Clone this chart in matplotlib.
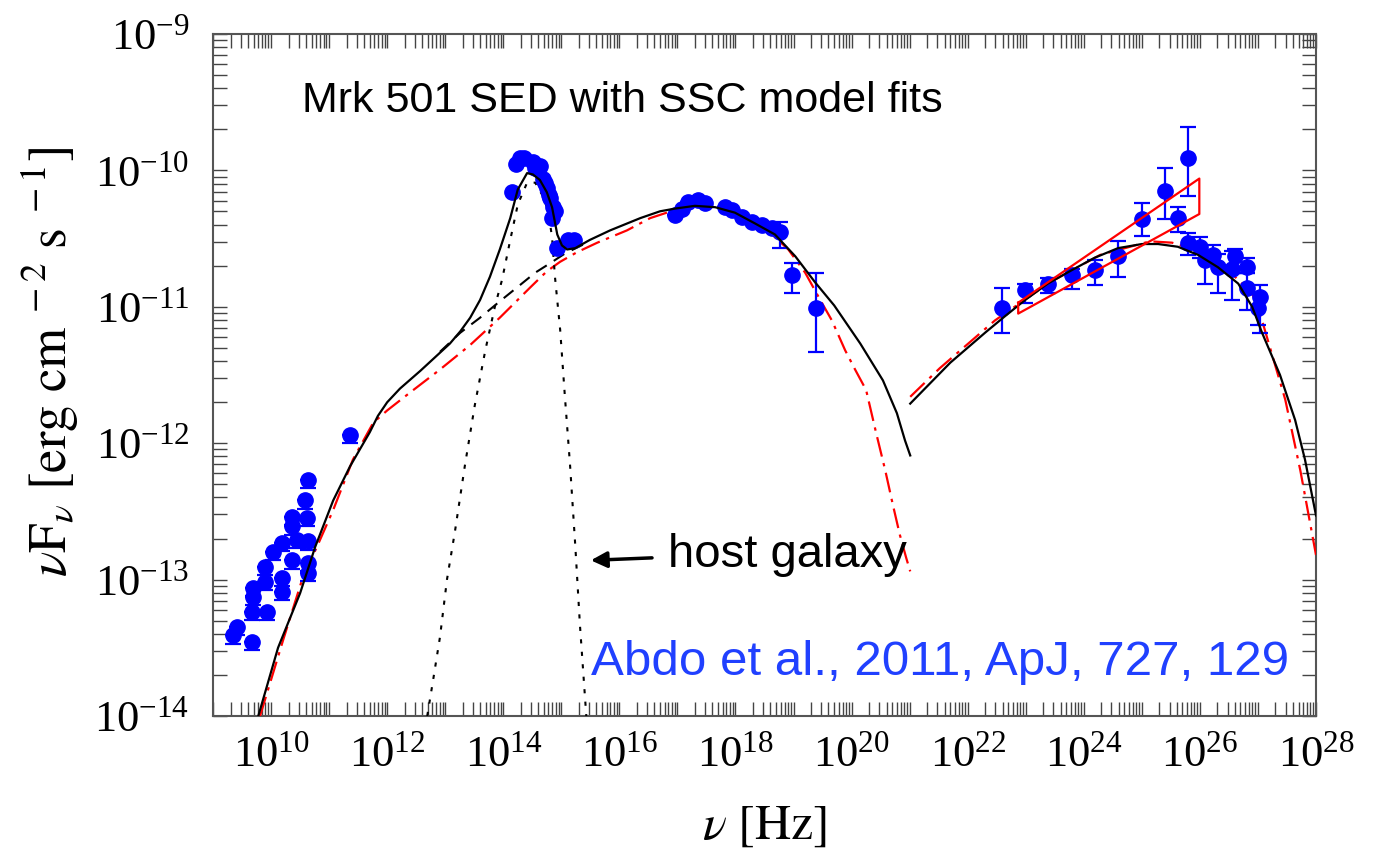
import numpy as np
import matplotlib
matplotlib.use("Agg")
import matplotlib.pyplot as plt
from matplotlib.ticker import FixedLocator, LogLocator, NullFormatter, LogFormatterSciNotation

plt.rcParams["font.family"] = "serif"
plt.rcParams["font.serif"] = ["Liberation Serif", "DejaVu Serif"]
plt.rcParams["mathtext.fontset"] = "stix"

# ---- data (log10 nu [Hz], log10 nuFnu [erg cm^-2 s^-1]) ----
radio_lognu = [9.34, 9.41, 9.67, 9.67, 9.69, 9.69, 9.90, 9.90, 9.93, 10.03, 10.19, 10.19,
               10.19, 10.36, 10.36, 10.36, 10.45, 10.62, 10.64, 10.64, 10.64, 10.58, 10.64, 11.36]
radio_logf = [-13.41, -13.35, -13.46, -13.24, -13.13, -13.06, -13.02, -12.91, -13.24, -12.80, -12.73, -12.99,
              -13.09, -12.86, -12.54, -12.61, -12.71, -12.55, -12.72, -12.88, -12.95, -12.42, -12.27, -11.94]

opt_lognu = [14.15, 14.22, 14.29, 14.36, 14.51, 14.55, 14.63, 14.68, 14.72, 14.75, 14.78, 14.81,
             14.86, 14.84, 14.89, 14.93, 15.12, 15.22]
opt_logf = [-10.16, -9.95, -9.91, -9.91, -9.94, -9.98, -9.97, -10.06, -10.09, -10.13, -10.18, -10.20,
            -10.27, -10.35, -10.30, -10.57, -10.51, -10.51]

xray_lognu = [16.96, 17.08, 17.18, 17.36, 17.48, 17.82, 17.94, 18.11, 18.29, 18.46, 18.63, 18.77, 18.97, 19.39]
xray_logf = [-10.33, -10.28, -10.23, -10.22, -10.24, -10.27, -10.29, -10.34, -10.38, -10.40, -10.42, -10.45, -10.77, -11.01]
xray_elo = [0, 0, 0, 0, 0, 0, 0, 0, 0, 0, 0, 0.12, 0.13, 0.32]
xray_ehi = [0, 0, 0, 0, 0, 0, 0, 0, 0, 0, 0, 0.07, 0.09, 0.26]

gam_lognu = [22.59, 22.99, 23.38, 23.80, 24.19, 24.59, 25.00, 25.40, 25.80, 25.62, 25.80, 26.00,
             26.09, 26.23, 26.31, 26.55, 26.61, 26.81, 26.81, 27.04, 27.00]
gam_logf = [-11.01, -10.88, -10.83, -10.77, -10.73, -10.63, -10.36, -10.15, -9.91, -10.35, -10.53, -10.56,
            -10.66, -10.62, -10.71, -10.72, -10.63, -10.71, -10.86, -10.93, -11.01]
gam_elo = [0.18, 0.09, 0.07, 0.10, 0.11, 0.15, 0.12, 0.21, 0.28, 0.10, 0.09, 0.08,
           0.17, 0.07, 0.19, 0.23, 0.12, 0.04, 0.16, 0.26, 0.12]
gam_ehi = [0.15, 0.05, 0.04, 0.05, 0.07, 0.11, 0.12, 0.17, 0.23, 0.08, 0.07, 0.07,
           0.06, 0.07, 0.10, 0.13, 0.05, 0.07, 0.11, 0.09, 0.10]

# Fermi-LAT bow tie
bow_lognu = [22.87, 25.99, 25.99, 22.87, 22.87]
bow_logf = [-10.97, -10.06, -10.32, -11.05, -10.97]

# SSC model curves
sync_lognu = [9.78, 10.12, 10.50, 10.76, 11.07, 11.36, 11.70, 11.84, 12.00, 12.22, 12.57, 13.08, 13.26, 13.43, 13.60,
              13.77, 13.94, 14.12, 14.25, 14.41, 14.51, 14.63, 14.75, 14.84, 14.93, 15.01, 15.10, 15.24,
              15.49, 15.84, 16.36, 16.70, 16.96, 17.30, 17.65, 17.99, 18.34, 18.68, 19.03, 19.37, 19.70,
              20.15, 20.54, 20.78, 20.92, 21.01]
sync_logf = [-14.00, -13.50, -13.10, -12.76, -12.42, -12.17, -11.92, -11.80, -11.70, -11.60, -11.47, -11.27, -11.18, -11.08, -10.95,
             -10.78, -10.58, -10.35, -10.14, -10.02, -10.03, -10.07, -10.16, -10.27, -10.47, -10.55, -10.58, -10.57,
             -10.51, -10.44, -10.35, -10.30, -10.28, -10.26, -10.27, -10.31, -10.39, -10.47, -10.63, -10.82, -10.99,
             -11.27, -11.54, -11.78, -11.98, -12.09]

synonly_lognu = [12.91, 13.26, 13.60, 13.94, 14.29, 14.55, 14.81, 15.06, 15.49]
synonly_logf = [-11.33, -11.19, -11.08, -10.96, -10.84, -10.75, -10.68, -10.61, -10.52]

host_lognu = [12.69, 12.79, 12.91, 13.03, 13.17, 13.34, 13.51, 13.69, 13.86, 13.98, 14.12, 14.25, 14.41,
              14.55, 14.67, 14.77, 14.84, 14.89, 14.98, 15.06, 15.15, 15.24, 15.32, 15.43]
host_logf = [-14.00, -13.74, -13.42, -13.00, -12.64, -12.16, -11.72, -11.32, -10.99, -10.80, -10.51, -10.25, -10.09,
             -10.09, -10.18, -10.29, -10.49, -10.78, -11.17, -11.65, -12.16, -12.75, -13.33, -14.00]

red_sync_lognu = [9.81, 10.21, 10.55, 10.79, 11.07, 11.41, 11.76, 12.00, 12.39, 12.91, 13.43, 13.94, 14.46,
                  14.75, 14.98, 15.27, 15.62, 16.13, 16.53, 16.96, 17.39, 17.73, 18.08, 18.42, 18.68, 18.91,
                  19.20, 19.46, 19.66, 19.89, 20.06, 20.25, 20.42, 20.58, 20.71, 20.83, 20.94, 21.01]
red_sync_logf = [-14.00, -13.44, -12.98, -12.76, -12.49, -12.12, -11.85, -11.76, -11.63, -11.46, -11.28, -11.08, -10.86,
                 -10.74, -10.67, -10.60, -10.53, -10.44, -10.35, -10.29, -10.25, -10.25, -10.30, -10.38, -10.49, -10.58,
                 -10.75, -10.95, -11.10, -11.32, -11.46, -11.61, -11.92, -12.20, -12.45, -12.67, -12.84, -12.94]

ic_lognu = [21.01, 21.70, 22.30, 22.64, 22.99, 23.38, 23.80, 24.19, 24.59, 25.00, 25.28, 25.62, 25.97,
            26.31, 26.66, 26.90, 27.07, 27.38, 27.64, 27.81, 28.00]
ic_logf = [-11.71, -11.41, -11.19, -11.07, -10.95, -10.83, -10.73, -10.64, -10.57, -10.54, -10.54, -10.56, -10.62,
           -10.71, -10.83, -11.00, -11.19, -11.50, -11.83, -12.12, -12.53]

red_ic_lognu = [21.01, 21.52, 22.47, 23.42, 24.28, 25.14, 25.52, 26.04, 26.43, 26.90, 27.07, 27.47, 27.73, 28.00]
red_ic_logf = [-11.66, -11.45, -11.10, -10.82, -10.62, -10.52, -10.53, -10.60, -10.71, -10.90, -11.10, -11.68, -12.20, -12.82]


def lin(a):
    return 10.0 ** np.asarray(a, dtype=float)


def yerr(logf, elo, ehi):
    f = lin(logf)
    return [f - f * 10.0 ** (-np.asarray(elo)), f * 10.0 ** np.asarray(ehi) - f]


fig = plt.figure(figsize=(13.86, 8.56), dpi=100)
ax = fig.add_axes([0.1537, 0.1636, 0.7958, 0.7967])

blue = "#0000ff"
pt = dict(fmt="o", color=blue, ms=11, elinewidth=1.6, capsize=5.8, capthick=1.6, zorder=5)

radio_elo = [0.06] * len(radio_logf)
radio_ehi = [0.0] * len(radio_logf)
ax.errorbar(lin(radio_lognu), lin(radio_logf), yerr=yerr(radio_logf, radio_elo, radio_ehi), **pt)
ax.plot(lin(opt_lognu), lin(opt_logf), "o", color=blue, ms=11, zorder=5)
ax.errorbar(lin(xray_lognu), lin(xray_logf), yerr=yerr(xray_logf, xray_elo, xray_ehi), **pt)
ax.errorbar(lin(gam_lognu), lin(gam_logf), yerr=yerr(gam_logf, gam_elo, gam_ehi), **pt)

# models
dashdot = (0, (9, 3, 1.5, 3))
ax.plot(lin(red_sync_lognu), lin(red_sync_logf), color="red", lw=1.6, ls=dashdot, zorder=3)
ax.plot(lin(red_ic_lognu), lin(red_ic_logf), color="red", lw=1.6, ls=dashdot, zorder=3)
ax.plot(lin(synonly_lognu), lin(synonly_logf), color="black", lw=1.5, ls=(0, (6, 4)), zorder=4)
ax.plot(lin(host_lognu), lin(host_logf), color="black", lw=1.5, ls=(0, (2, 4)), zorder=4)
ax.plot(lin(sync_lognu), lin(sync_logf), color="black", lw=1.6, zorder=6)
ax.plot(lin(ic_lognu), lin(ic_logf), color="black", lw=1.6, zorder=6)
ax.plot(lin(bow_lognu), lin(bow_logf), color="red", lw=1.6, zorder=7)

ax.set_xscale("log")
ax.set_yscale("log")
ax.set_xlim(1e9, 1e28)
ax.set_ylim(1e-14, 1e-9)

ax.xaxis.set_major_locator(FixedLocator(10.0 ** np.arange(10, 29, 2)))
ax.xaxis.set_major_formatter(LogFormatterSciNotation())
ax.xaxis.set_minor_locator(LogLocator(base=10, subs=np.arange(1, 10), numticks=60))
ax.xaxis.set_minor_formatter(NullFormatter())
ax.yaxis.set_major_locator(LogLocator(base=10, numticks=10))
ax.yaxis.set_minor_locator(LogLocator(base=10, subs=np.arange(2, 10), numticks=60))
ax.yaxis.set_minor_formatter(NullFormatter())

ax.tick_params(which="both", direction="in", top=True, right=True, length=10, width=1, color="#444444")
ax.tick_params(axis="x", which="major", labelsize=32, pad=14)
ax.tick_params(axis="y", which="major", labelsize=32, pad=17)
for s in ax.spines.values():
    s.set_color("#555555")
    s.set_linewidth(1.5)

ax.set_xlabel(r"$\nu\ [\mathrm{Hz}]$", fontsize=36)
ax.set_ylabel(r"$\nu \mathrm{F}_{\nu}\ [\mathrm{erg\ cm}^{\ -2}\ \mathrm{s}^{\ -1}]$", fontsize=38)
ax.xaxis.set_label_coords(0.5, -0.128)
ax.yaxis.set_label_coords(-0.12, 0.52)

ax.text(0.371, 0.902, "Mrk 501 SED with SSC model fits", transform=ax.transAxes,
        ha="center", va="center", fontsize=31, family=["Liberation Sans", "DejaVu Sans"], color="black")
ax.text(0.976, 0.079, "Abdo et al., 2011, ApJ, 727, 129", transform=ax.transAxes,
        ha="right", va="center", fontsize=35.5, family=["Liberation Sans", "DejaVu Sans"], color="#2040ff")
ax.text(10 ** 16.84, 10 ** -12.82, "host galaxy", ha="left", va="center", fontsize=34,
        family=["Liberation Sans", "DejaVu Sans"], color="black")
ax.annotate("", xy=(10 ** 15.46, 10 ** -12.86), xytext=(10 ** 16.61, 10 ** -12.84),
            arrowprops=dict(arrowstyle="-|>", color="black", lw=2.5, mutation_scale=24))

fig.savefig("out.png", dpi=100)
